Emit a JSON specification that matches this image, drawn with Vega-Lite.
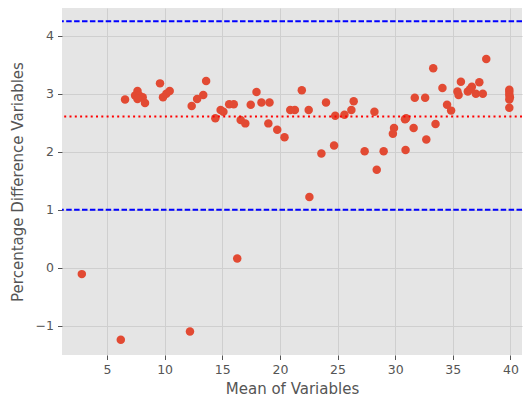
{
  "$schema": "https://vega.github.io/schema/vega-lite/v6.json",
  "width": 460,
  "height": 347,
  "autosize": "none",
  "padding": {"left": 62, "top": 8, "right": 3, "bottom": 46},
  "background": "white",
  "config": {
    "view": {"fill": "#E5E5E5", "stroke": null},
    "font": "DejaVu Sans",
    "axis": {
      "gridColor": "#cfcfcf",
      "gridWidth": 1,
      "domain": false,
      "tickColor": "#555555",
      "tickSize": 4.5,
      "labelPadding": 4,
      "labelColor": "#555555",
      "labelFontSize": 12.5,
      "titleColor": "#555555",
      "titleFontSize": 15,
      "titleFontWeight": "normal"
    }
  },
  "datasets": {
    "pts": [
      {"mean": 2.82, "diff": -0.11},
      {"mean": 6.2, "diff": -1.24},
      {"mean": 12.2, "diff": -1.1},
      {"mean": 16.3, "diff": 0.16},
      {"mean": 22.56, "diff": 1.22},
      {"mean": 6.57, "diff": 2.9},
      {"mean": 7.65, "diff": 3.05},
      {"mean": 7.44, "diff": 2.97},
      {"mean": 7.8, "diff": 2.97},
      {"mean": 8.1, "diff": 2.94},
      {"mean": 8.3, "diff": 2.84},
      {"mean": 7.65, "diff": 2.91},
      {"mean": 9.6, "diff": 3.18},
      {"mean": 9.86, "diff": 2.94},
      {"mean": 10.15, "diff": 3.0},
      {"mean": 10.44, "diff": 3.05},
      {"mean": 12.35, "diff": 2.79},
      {"mean": 12.82, "diff": 2.91},
      {"mean": 13.35, "diff": 2.98},
      {"mean": 13.6, "diff": 3.22},
      {"mean": 14.4, "diff": 2.58},
      {"mean": 14.86, "diff": 2.72},
      {"mean": 15.1, "diff": 2.69},
      {"mean": 15.6, "diff": 2.82},
      {"mean": 16.0, "diff": 2.82},
      {"mean": 16.6, "diff": 2.55},
      {"mean": 17.0, "diff": 2.49},
      {"mean": 17.47, "diff": 2.81},
      {"mean": 17.97, "diff": 3.03},
      {"mean": 18.4, "diff": 2.85},
      {"mean": 19.1, "diff": 2.85},
      {"mean": 19.0, "diff": 2.49},
      {"mean": 19.77, "diff": 2.38},
      {"mean": 20.4, "diff": 2.25},
      {"mean": 20.9, "diff": 2.72},
      {"mean": 21.3, "diff": 2.72},
      {"mean": 21.9, "diff": 3.06},
      {"mean": 22.5, "diff": 2.72},
      {"mean": 23.6, "diff": 1.97},
      {"mean": 24.0, "diff": 2.85},
      {"mean": 24.7, "diff": 2.11},
      {"mean": 24.8, "diff": 2.62},
      {"mean": 25.6, "diff": 2.64},
      {"mean": 26.2, "diff": 2.72},
      {"mean": 26.4, "diff": 2.87},
      {"mean": 27.35, "diff": 2.01},
      {"mean": 28.2, "diff": 2.69},
      {"mean": 28.4, "diff": 1.69},
      {"mean": 29.0, "diff": 2.01},
      {"mean": 29.8, "diff": 2.31},
      {"mean": 29.9, "diff": 2.41},
      {"mean": 30.85, "diff": 2.56},
      {"mean": 30.95, "diff": 2.58},
      {"mean": 30.9, "diff": 2.03},
      {"mean": 31.6, "diff": 2.41},
      {"mean": 31.7, "diff": 2.93},
      {"mean": 32.6, "diff": 2.93},
      {"mean": 32.7, "diff": 2.21},
      {"mean": 33.3, "diff": 3.44},
      {"mean": 33.5, "diff": 2.48},
      {"mean": 34.1, "diff": 3.1},
      {"mean": 34.5, "diff": 2.81},
      {"mean": 34.85, "diff": 2.71},
      {"mean": 35.4, "diff": 3.04},
      {"mean": 35.5, "diff": 2.98},
      {"mean": 35.7, "diff": 3.21},
      {"mean": 36.3, "diff": 3.04},
      {"mean": 36.65, "diff": 3.12},
      {"mean": 36.5, "diff": 3.08},
      {"mean": 37.0, "diff": 3.0},
      {"mean": 37.3, "diff": 3.2},
      {"mean": 37.6, "diff": 3.0},
      {"mean": 37.9, "diff": 3.6},
      {"mean": 39.9, "diff": 3.07},
      {"mean": 39.9, "diff": 3.03},
      {"mean": 39.9, "diff": 2.98},
      {"mean": 39.95, "diff": 2.94},
      {"mean": 39.9, "diff": 2.9},
      {"mean": 39.9, "diff": 2.76}
    ],
    "limits": [
      {"y": 4.25, "kind": "loa"},
      {"y": 1.0, "kind": "loa"}
    ],
    "meanline": [{"y": 2.61}]
  },
  "layer": [
    {
      "data": {"name": "pts"},
      "mark": {"type": "circle", "size": 72, "color": "#E24A33", "opacity": 1},
      "encoding": {
        "x": {
          "field": "mean", "type": "quantitative",
          "scale": {"domain": [1.1, 41.0], "nice": false, "zero": false},
          "axis": {"values": [5, 10, 15, 20, 25, 30, 35, 40], "format": "d", "title": "Mean of Variables", "titlePadding": 5}
        },
        "y": {
          "field": "diff", "type": "quantitative",
          "scale": {"domain": [-1.505, 4.48], "nice": false, "zero": false},
          "axis": {"values": [-1, 0, 1, 2, 3, 4], "format": "d", "labelExpr": "replace(datum.label, '-', '\u2212')", "title": "Percentage Difference Variables", "titlePadding": 10}
        }
      }
    },
    {
      "data": {"name": "limits"},
      "mark": {"type": "rule", "color": "#0000ff", "strokeWidth": 2, "strokeDash": [5.5, 2.4]},
      "encoding": {"y": {"field": "y", "type": "quantitative"}}
    },
    {
      "data": {"name": "meanline"},
      "mark": {"type": "rule", "color": "#ff0000", "strokeWidth": 2, "strokeDash": [2, 3.3]},
      "encoding": {"y": {"field": "y", "type": "quantitative"}}
    }
  ]
}
